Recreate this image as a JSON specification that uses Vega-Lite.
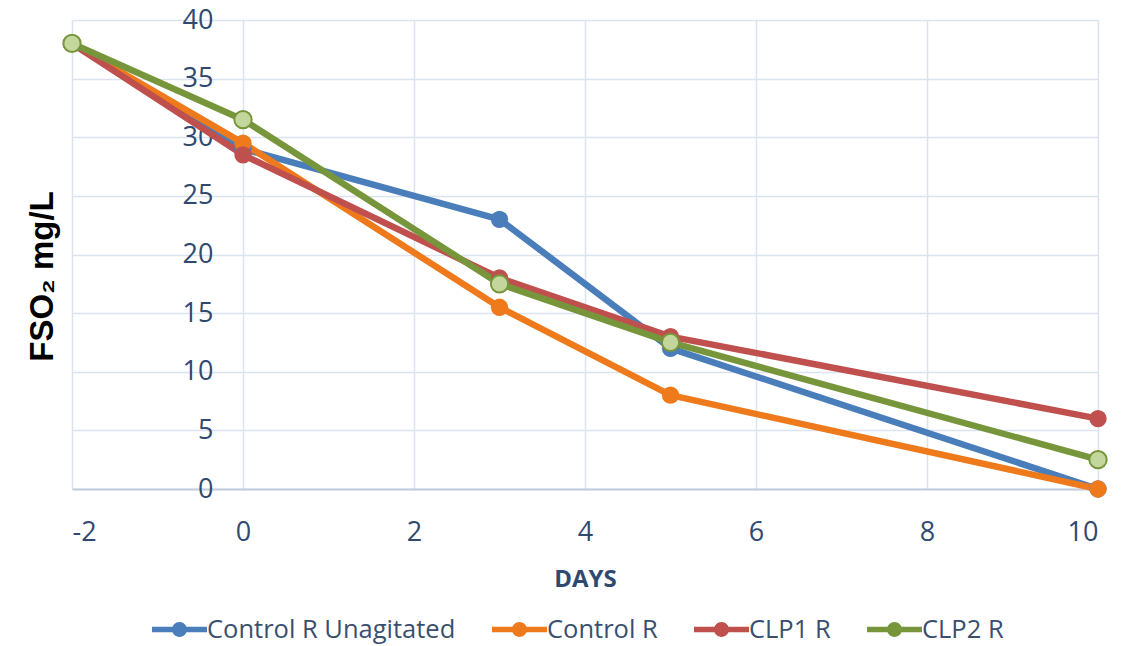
{
  "$schema": "https://vega.github.io/schema/vega-lite/v6.json",
  "autosize": "none",
  "width": 1026,
  "height": 469,
  "padding": {"left": 72, "top": 20, "right": 42, "bottom": 157},
  "background": "white",
  "config": {
    "view": {"stroke": null},
    "font": "Open Sans"
  },
  "data": {
    "values": [
      {"series": "Control R Unagitated", "day": -2, "value": 38},
      {"series": "Control R Unagitated", "day": 0, "value": 29},
      {"series": "Control R Unagitated", "day": 3, "value": 23},
      {"series": "Control R Unagitated", "day": 5, "value": 12},
      {"series": "Control R Unagitated", "day": 10, "value": 0},
      {"series": "Control R", "day": -2, "value": 38},
      {"series": "Control R", "day": 0, "value": 29.5},
      {"series": "Control R", "day": 3, "value": 15.5},
      {"series": "Control R", "day": 5, "value": 8},
      {"series": "Control R", "day": 10, "value": 0},
      {"series": "CLP1 R", "day": -2, "value": 38},
      {"series": "CLP1 R", "day": 0, "value": 28.5},
      {"series": "CLP1 R", "day": 3, "value": 18},
      {"series": "CLP1 R", "day": 5, "value": 13},
      {"series": "CLP1 R", "day": 10, "value": 6},
      {"series": "CLP2 R", "day": -2, "value": 38},
      {"series": "CLP2 R", "day": 0, "value": 31.5},
      {"series": "CLP2 R", "day": 3, "value": 17.5},
      {"series": "CLP2 R", "day": 5, "value": 12.5},
      {"series": "CLP2 R", "day": 10, "value": 2.5}
    ]
  },
  "encoding": {
    "x": {
      "field": "day", "type": "quantitative",
      "scale": {"domain": [-2, 10], "nice": false, "zero": false},
      "axis": {
        "title": "DAYS",
        "values": [-2, 0, 2, 4, 6, 8, 10],
        "labelExpr": "replace(datum.label, '−', '-')",
        "grid": true, "gridColor": "#DCE3F0", "gridWidth": 1.5,
        "domain": true, "domainColor": "#C2CCDD", "domainWidth": 2,
        "ticks": false, "labelPadding": 30,
        "labelFont": "Open Sans", "labelFontSize": 27, "labelColor": "#30496F",
        "titleFont": "Open Sans", "titleFontSize": 24, "titleFontWeight": "bold", "titleColor": "#30496F",
        "titlePadding": 22
      }
    },
    "y": {
      "field": "value", "type": "quantitative",
      "scale": {"domain": [0, 40], "nice": false},
      "axis": {
        "title": "FSO₂ mg/L",
        "values": [0, 5, 10, 15, 20, 25, 30, 35, 40],
        "grid": true, "gridColor": "#DCE3F0", "gridWidth": 1.5,
        "domain": false, "ticks": false,
        "offset": -171, "labelPadding": 30,
        "labelFont": "Open Sans", "labelFontSize": 27, "labelColor": "#30496F",
        "titleFont": "Liberation Sans", "titleFontSize": 33, "titleFontWeight": "bold", "titleColor": "#000000",
        "titleX": -201, "titleY": 256, "titleBaseline": "middle", "titleAlign": "center", "titleAngle": -90
      }
    },
    "color": {
      "field": "series", "type": "nominal",
      "scale": {
        "domain": ["Control R Unagitated", "Control R", "CLP1 R", "CLP2 R"],
        "range": ["#4A7EBB", "#EE7A1C", "#C0504D", "#77963C"]
      },
      "legend": {
        "orient": "none", "direction": "horizontal",
        "legendX": 80, "legendY": 582,
        "title": null,
        "symbolType": "M-1,-0.1H1V0.1H-1Z M-0.27,0 A0.27,0.27 0 1,1 0.27,0 A0.27,0.27 0 1,1 -0.27,0Z",
        "symbolSize": 3025, "symbolStrokeWidth": 0,
        "labelFont": "Open Sans", "labelFontSize": 25.5, "labelColor": "#3A4F6E",
        "labelOffset": 0, "labelLimit": 500, "columnPadding": 36
      }
    }
  },
  "layer": [
    {
      "mark": {"type": "line", "strokeWidth": 6.5, "strokeJoin": "round"},
      "encoding": {
        "order": {"field": "day", "type": "quantitative"}
      }
    },
    {
      "mark": {"type": "point", "filled": true, "size": 300, "strokeWidth": 0, "opacity": 1}
    },
    {
      "transform": [{"filter": "datum.series === 'CLP2 R'"}],
      "mark": {"type": "point", "filled": true, "size": 300, "fill": "#C3D69B", "stroke": "#77963C", "strokeWidth": 2, "opacity": 1},
      "encoding": {"color": {"value": "#C3D69B"}}
    }
  ]
}
